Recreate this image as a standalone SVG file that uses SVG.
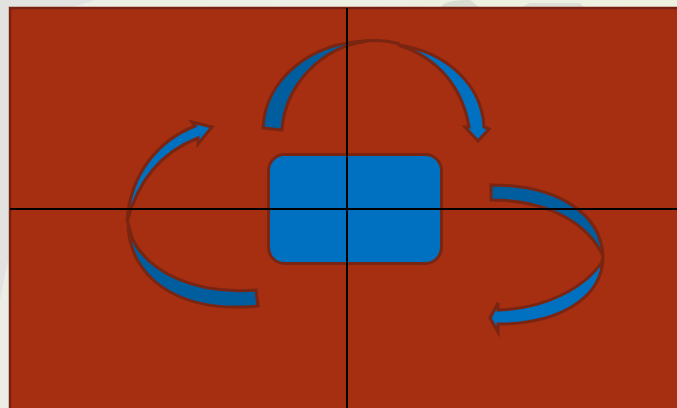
<svg xmlns="http://www.w3.org/2000/svg" width="677" height="408" viewBox="0 0 677 408">
  <defs>
    <style>
      .front { fill: #0070c0; stroke: #7a2412; stroke-width: 3; stroke-linejoin: miter; }
      .back { fill: #005e9f; stroke: #7a2412; stroke-width: 3; stroke-linejoin: miter; }
      .guide { stroke: #000; stroke-width: 2; fill: none; }
    </style>
    <linearGradient id="bg" x1="0" y1="0" x2="1" y2="0">
      <stop offset="0" stop-color="#eceee6"/>
      <stop offset="1" stop-color="#edf1de"/>
    </linearGradient>
  </defs>
  <rect x="0" y="0" width="677" height="408" fill="url(#bg)"/>
  <polygon points="0,0 95,0 70,8 8,8 8,260 0,300" fill="#e2e2e0"/>
  <path d="M440,8 C445,0 460,0 470,0 L480,8 Z" fill="#d8dcd0"/>
  <path d="M520,8 L530,3 L580,3 L585,8 Z" fill="#dcdfd3"/>
  <rect id="panel" x="10" y="8" width="680" height="410" fill="#a52f10" stroke="#7a2010" stroke-width="2.5"/>

  <g id="center-node">
    <rect x="268.5" y="154.5" width="173" height="109" rx="16" ry="16" fill="#0070c0" stroke="#7a2412" stroke-width="3"/>
  </g>

  <g id="connectors">
    <g id="arrow-top">
      <path class="back" d="M263,128 C265,80 310,42 368,41 C320,47 285,86 282,130 Z"/>
      <path class="front" d="M478,141 L465,127 L469,127 C463,90 440,58 398,45 C448,52 482,86 484,127 L489,129 Z"/>
      <path d="M360,42 C375,39 388,41 400,44" fill="none" stroke="#7a2412" stroke-width="3"/>
    </g>
    <g id="arrow-left">
      <path class="front" d="M212,127 L192,122 L195,126 C160,140 130,172 127,222 C138,180 162,152 198,138 L198,144 Z"/>
      <path class="back" d="M128,222 C128,275 175,314 258,306 L256,290 C195,295 148,272 132,238 Z"/>
    </g>
    <g id="arrow-right">
      <path class="back" d="M491,185 C560,185 601,215 603,256 C590,228 555,200 491,200 Z"/>
      <path class="front" d="M603,256 C603,300 556,324 498,324 L498,332 L490,318 L498,303 L498,310 C546,309 585,287 602,262 Z"/>
    </g>
  </g>

  <g id="guides">
    <line class="guide" x1="347" y1="8" x2="347" y2="408"/>
    <line class="guide" x1="10" y1="209" x2="677" y2="209"/>
  </g>
</svg>
